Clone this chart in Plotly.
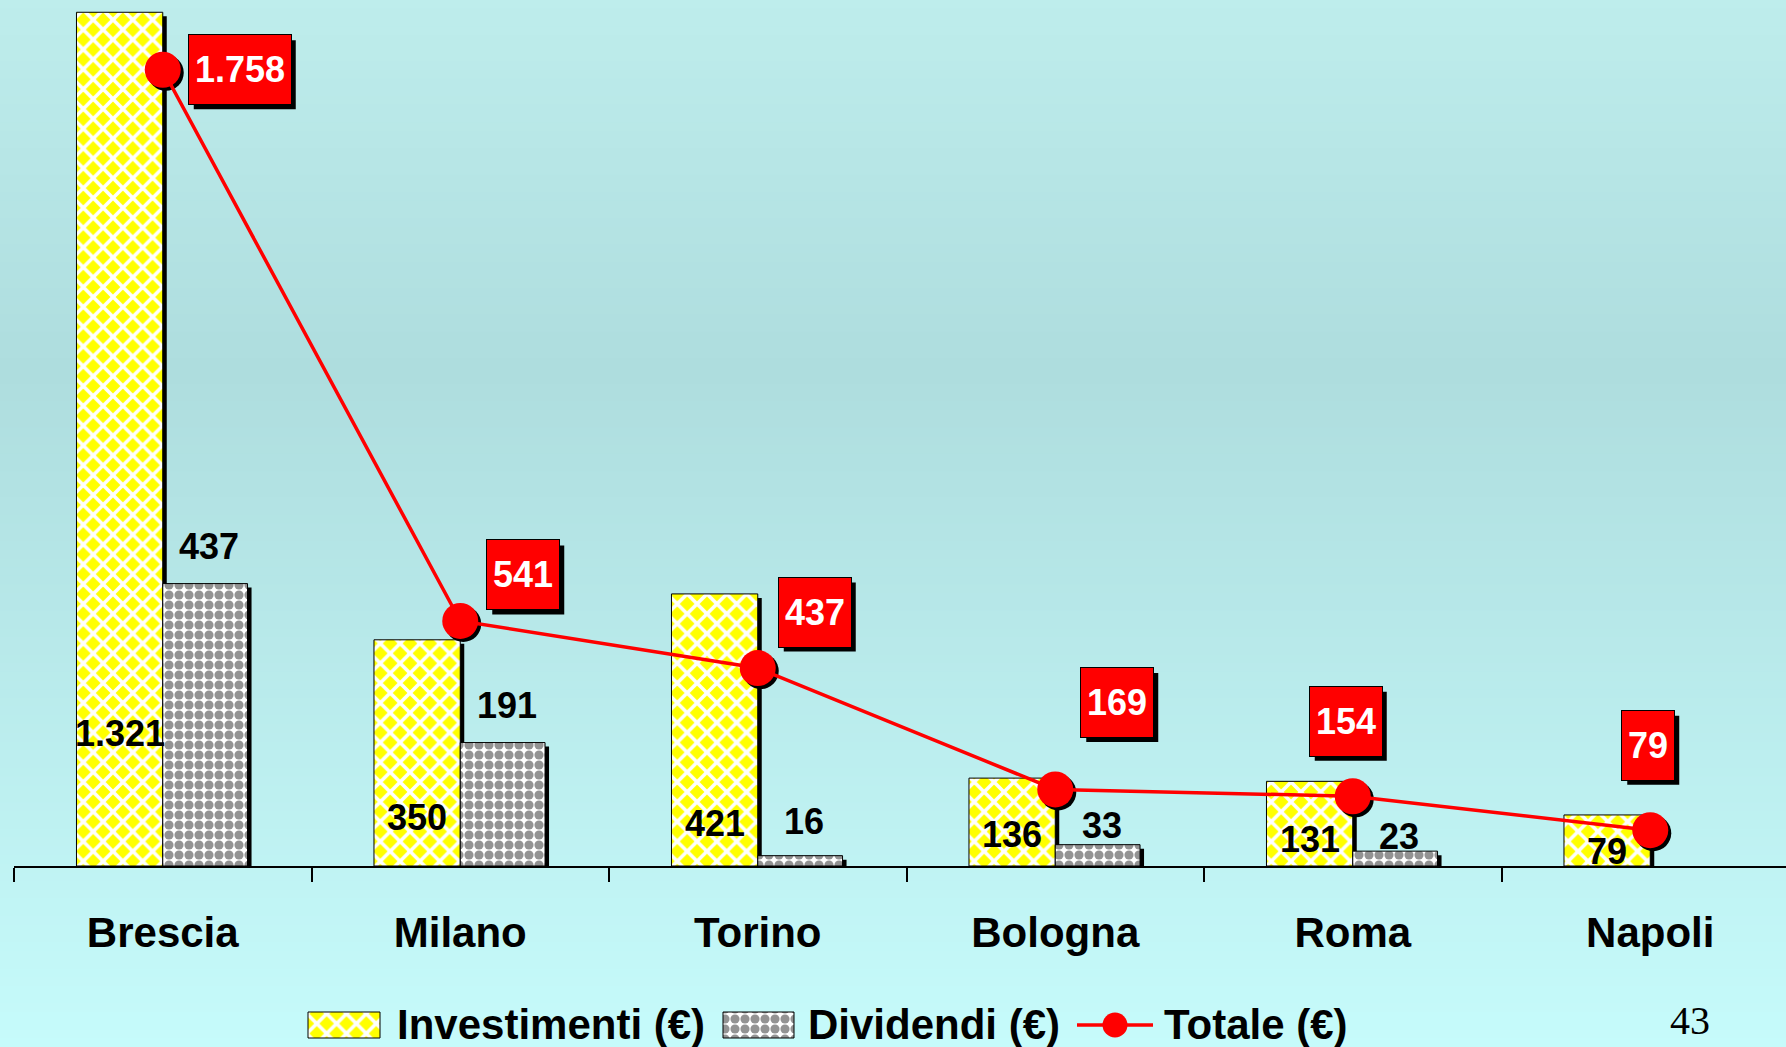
import plotly.graph_objects as go

# ---------------- data ----------------
categories = ["Brescia", "Milano", "Torino", "Bologna", "Roma", "Napoli"]
investimenti = [1321, 350, 421, 136, 131, 79]
dividendi = [437, 191, 16, 33, 23, None]
totale = [1758, 541, 437, 169, 154, 79]
series_names = ["Investimenti (€)", "Dividendi (€)", "Totale (€)"]

# ---------------- label placement (styling only) ----------------
inv_label_y = [205, 75, 66, 49, 41, 23]          # centre of value label, primary-axis units
div_label_y = [494, 248, 69, 63, 45, None]
tot_label_shift = [(77, 0), (63, 46), (57, 56), (62, 87), (-7, 75), (-2, 85)]  # px offsets of red boxes

FIG_W, FIG_H = 1786, 1047
PLOT_L = 14            # left edge of plot area, px
BASE_Y = 866           # baseline, px from top
PLOT_W = FIG_W - PLOT_L
PLOT_H = BASE_Y
CAT_PX = 297.5
Y1_MAX = 1340
Y2_MAX = 1912
PX_Y1 = PLOT_H / Y1_MAX
PX_Y2 = PLOT_H / Y2_MAX
BOX_H = 69

FONT = "Arial, 'Liberation Sans', sans-serif"
YELLOW_MARKER = dict(color="#FFFF00", line=dict(color="black", width=1),
                     pattern=dict(shape="x", fgcolor="white", fgopacity=1, size=14, solidity=0.45,
                                  fillmode="overlay"))
GREY_MARKER = dict(color="white", line=dict(color="black", width=1),
                   pattern=dict(shape=".", fgcolor="#939393", fgopacity=1, size=10, solidity=0.66,
                                fillmode="overlay"))


def fmt(v):
    return f"{v:,}".replace(",", ".")


xs = list(range(len(categories)))
bounds = [x - 0.5 for x in xs]

fig = go.Figure()

# bar shadows
sdx = 4 / CAT_PX
sdy = 4 / PX_Y1
W_INV, W_DIV = 0.29, 0.285
fig.add_bar(x=xs, y=investimenti, base=-sdy, offset=-W_INV + sdx, width=W_INV,
            marker=dict(color="black", line=dict(width=0)), hoverinfo="skip")
fig.add_bar(x=xs, y=dividendi, base=-sdy, offset=sdx, width=W_DIV,
            marker=dict(color="black", line=dict(width=0)), hoverinfo="skip")

# bars
fig.add_bar(x=xs, y=investimenti, offset=-W_INV, width=W_INV, name=series_names[0], marker=YELLOW_MARKER)
fig.add_bar(x=xs, y=dividendi, offset=0, width=W_DIV, name=series_names[1], marker=GREY_MARKER)

# totale line: marker shadow + line
mdx = 3 / CAT_PX
mdy = 3 / PX_Y2
fig.add_scatter(x=[x + mdx for x in xs], y=[t - mdy for t in totale], yaxis="y2",
                mode="markers", marker=dict(size=36, color="black"), hoverinfo="skip")
fig.add_scatter(x=xs, y=totale, yaxis="y2", mode="lines+markers", name=series_names[2],
                line=dict(color="#FF0000", width=3.5),
                marker=dict(size=36, color="#FF0000"))

# ---------------- hand-built legend (own little axes at the bottom) ----------------
LEG_Y = 1025
leg_sw = [(308, 380), (723, 794)]
leg_line = (1077, 1153)
leg_text_x = [395, 806, 1162]
for (a, b), mk in zip(leg_sw, (YELLOW_MARKER, GREY_MARKER)):
    fig.add_bar(x=[b - a], base=[a], y=[LEG_Y], width=[26], orientation="h",
                xaxis="x3", yaxis="y3", hoverinfo="skip", marker=mk)
fig.add_scatter(x=list(leg_line), y=[LEG_Y, LEG_Y], xaxis="x3", yaxis="y3", mode="lines",
                line=dict(color="#FF0000", width=3.5), hoverinfo="skip")
fig.add_scatter(x=[sum(leg_line) / 2], y=[LEG_Y], xaxis="x3", yaxis="y3", mode="markers",
                marker=dict(size=25, color="#FF0000"), hoverinfo="skip")

annotations = []
shapes = []
for tx, name in zip(leg_text_x, series_names):
    annotations.append(dict(x=tx, y=LEG_Y - 1, xref="x3", yref="y3", text=name, showarrow=False,
                            xanchor="left", yanchor="middle",
                            font=dict(size=42, color="black", family=FONT, weight="bold")))

# value labels for bars
for x, v, ly in zip(xs, investimenti, inv_label_y):
    annotations.append(dict(x=x - W_INV / 2, y=ly, xref="x", yref="y", text=fmt(v),
                            showarrow=False, yanchor="middle",
                            font=dict(size=36, color="black", family=FONT, weight="bold")))
for x, v, ly in zip(xs, dividendi, div_label_y):
    if v is None:
        continue
    annotations.append(dict(x=x + W_DIV / 2, y=ly, xref="x", yref="y", text=fmt(v),
                            showarrow=False, yanchor="middle", xshift=4,
                            font=dict(size=36, color="black", family=FONT, weight="bold")))

# red total boxes with drop shadow
for x, t, (dx, dy) in zip(xs, totale, tot_label_shift):
    txt = fmt(t)
    ndig = sum(c.isdigit() for c in txt)
    w = 12 + 20 * ndig + 10 * (len(txt) - ndig)
    shapes.append(dict(type="rect", xref="x", yref="y2", xsizemode="pixel", ysizemode="pixel",
                       xanchor=x, yanchor=t,
                       x0=dx + 5 - w / 2, x1=dx + 5 + w / 2,
                       y0=dy - 5 - BOX_H / 2, y1=dy - 5 + BOX_H / 2,
                       fillcolor="black", line=dict(width=0), layer="above"))
    annotations.append(dict(
        x=x, y=t, xref="x", yref="y2", text=txt, showarrow=False,
        xshift=dx, yshift=dy, width=w, height=BOX_H, align="center", valign="middle",
        bgcolor="#FF0000", bordercolor="black", borderwidth=1, borderpad=0,
        font=dict(size=36, color="white", family=FONT, weight="bold")))

# page number
annotations.append(dict(x=1690 / FIG_W, y=1 - 1020 / FIG_H, xref="paper", yref="paper",
                        text="43", showarrow=False, xanchor="center", yanchor="middle",
                        font=dict(size=40, color="black",
                                  family="'Times New Roman', 'Liberation Serif', 'DejaVu Serif', serif")))

# background gradient
stops = [(0, (190, 237, 236)), (370, (174, 221, 222)), (FIG_H, (198, 251, 251))]


def col_at(py):
    for (p0, c0), (p1, c1) in zip(stops[:-1], stops[1:]):
        if p0 <= py <= p1:
            f = (py - p0) / (p1 - p0)
            return "rgb(%d,%d,%d)" % tuple(round(a + (b - a) * f) for a, b in zip(c0, c1))
    return "rgb(%d,%d,%d)" % stops[-1][1]


N = 120
for i in range(N):
    p0 = i * FIG_H / N
    p1 = (i + 1) * FIG_H / N + 1
    shapes.append(dict(type="rect", xref="paper", yref="paper", layer="below",
                       x0=0, x1=1, y0=max(0, 1 - p1 / FIG_H), y1=1 - p0 / FIG_H,
                       fillcolor=col_at((p0 + p1) / 2), line=dict(width=0)))

x_range = [-0.5, -0.5 + PLOT_W / CAT_PX]
x_dom = [PLOT_L / FIG_W, 1]
y_dom = [1 - BASE_Y / FIG_H, 1]

fig.update_layout(
    width=FIG_W, height=FIG_H, autosize=False,
    margin=dict(l=0, r=0, t=0, b=0, pad=0),
    paper_bgcolor="rgb(186,230,230)", plot_bgcolor="rgba(0,0,0,0)",
    barmode="overlay",
    font=dict(family=FONT, color="black"),
    showlegend=False,
    xaxis=dict(domain=x_dom, range=x_range, tickmode="array", tickvals=xs, ticktext=categories,
               ticks="", showline=True, linecolor="black", linewidth=1.5,
               showgrid=False, zeroline=False, ticklabelstandoff=29,
               tickfont=dict(size=42, family=FONT, color="black", weight="bold"),
               minor=dict(tickmode="array", tickvals=bounds, ticks="outside", ticklen=14,
                          tickwidth=1.5, tickcolor="black", showgrid=False)),
    xaxis2=dict(range=x_range, overlaying="x", anchor="y", tickmode="array", tickvals=bounds,
                ticks="inside", ticklen=14, tickwidth=1.5, tickcolor="black",
                showticklabels=False, showgrid=False, showline=False, zeroline=False),
    yaxis=dict(domain=y_dom, range=[0, Y1_MAX], visible=False, fixedrange=True),
    yaxis2=dict(range=[0, Y2_MAX], overlaying="y", visible=False),
    xaxis3=dict(domain=[0, 1], range=[0, FIG_W], anchor="y3", visible=False),
    yaxis3=dict(domain=[0, 63 / FIG_H], range=[FIG_H, FIG_H - 63], anchor="x3", visible=False),
    annotations=annotations,
    shapes=shapes,
)

post = ("document.documentElement.style.margin='0';document.body.style.margin='0';"
        "document.body.style.padding='0';document.body.style.overflow='hidden';"
        "var gd=document.getElementById('{plot_id}');"
        "Plotly.relayout(gd,{width:%d,height:%d});" % (FIG_W, FIG_H))

fig.write_html("out.html", post_script=post, config={"displayModeBar": False})
